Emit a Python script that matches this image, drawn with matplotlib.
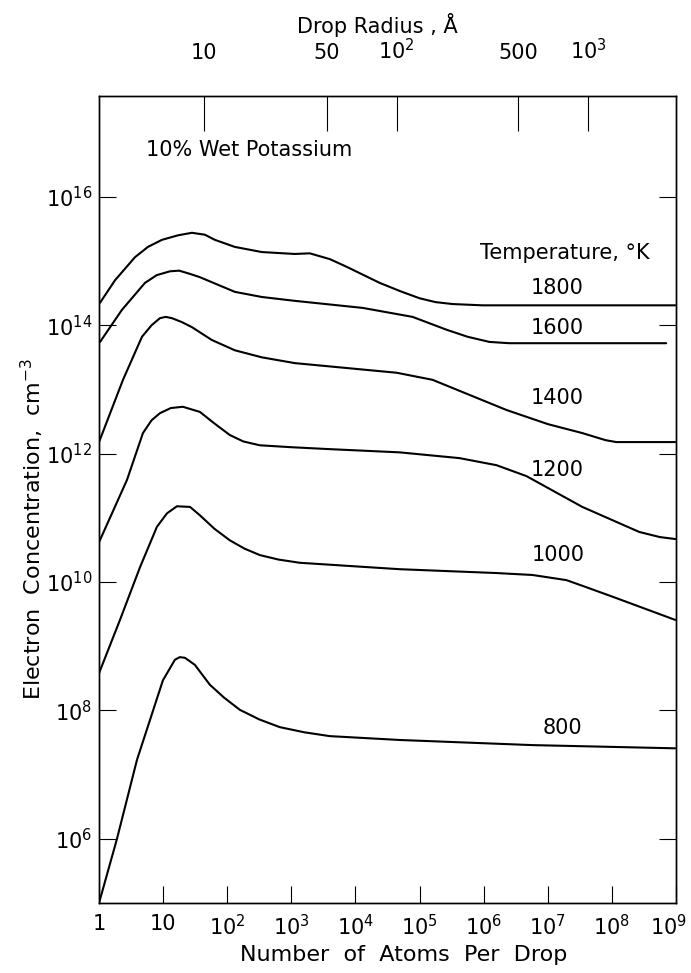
import numpy as np
import matplotlib
matplotlib.use("Agg")
import matplotlib.pyplot as plt
from matplotlib.transforms import ScaledTranslation

plt.rcParams["font.family"] = ["DejaVu Sans"]
plt.rcParams["mathtext.default"] = "regular"

# log10(atoms per drop) / log10(electron concentration)
t1800_x = [0.016, 0.249, 0.561, 0.763, 0.981, 1.23, 1.449, 1.651, 1.807, 2.118, 2.539, 3.053, 3.287,
           3.6, 3.863, 4.377, 4.7, 5.0, 5.25, 5.514, 5.981, 8.988]
t1800_y = [14.35, 14.70, 15.06, 15.22, 15.33, 15.40, 15.44, 15.41, 15.33, 15.22, 15.14, 15.11, 15.12,
           15.03, 14.91, 14.66, 14.53, 14.42, 14.36, 14.33, 14.31, 14.31]

t1600_x = [0.016, 0.358, 0.717, 0.9, 1.106, 1.25, 1.386, 1.57, 1.760, 2.118, 2.539, 3.053, 4.112,
           4.891, 5.421, 5.75, 6.090, 6.4, 6.760, 8.847]
t1600_y = [13.74, 14.24, 14.66, 14.78, 14.84, 14.85, 14.81, 14.75, 14.67, 14.52, 14.44, 14.38, 14.27,
           14.13, 13.93, 13.82, 13.74, 13.72, 13.72, 13.72]

t1400_x = [0.0, 0.374, 0.670, 0.82, 0.950, 1.04, 1.137, 1.29, 1.449, 1.760, 2.118, 2.539, 3.053,
           4.642, 5.202, 6.355, 7.0, 7.539, 7.9, 8.069, 8.988]
t1400_y = [12.18, 13.15, 13.82, 14.0, 14.11, 14.13, 14.11, 14.05, 13.97, 13.77, 13.61, 13.50, 13.41,
           13.26, 13.15, 12.68, 12.46, 12.32, 12.21, 12.18, 12.18]

t1200_x = [0.0, 0.436, 0.685, 0.82, 0.950, 1.12, 1.308, 1.573, 1.80, 2.040, 2.25, 2.508, 3.0, 3.598,
           4.688, 5.623, 6.2, 6.667, 7.539, 8.427, 8.75, 8.988]
t1200_y = [10.62, 11.59, 12.32, 12.52, 12.63, 12.71, 12.73, 12.65, 12.47, 12.29, 12.19, 12.13, 12.10, 12.07,
           12.02, 11.93, 11.82, 11.65, 11.17, 10.78, 10.70, 10.67]

t1000_x = [0.0, 0.327, 0.639, 0.903, 1.06, 1.215, 1.420, 1.573, 1.80, 2.040, 2.27, 2.508, 2.8, 3.131,
           4.688, 6.2, 6.760, 7.290, 7.6, 8.069, 8.988]
t1000_y = [8.58, 9.41, 10.23, 10.86, 11.07, 11.18, 11.17, 11.04, 10.83, 10.65, 10.52, 10.42, 10.35, 10.30,
           10.20, 10.14, 10.11, 10.03, 9.92, 9.75, 9.41]

t800_x = [0.0, 0.280, 0.592, 0.997, 1.184, 1.26, 1.340, 1.495, 1.729, 1.95, 2.196, 2.5, 2.819, 3.2,
          3.598, 4.688, 6.760, 8.988]
t800_y = [5.0, 6.0, 7.23, 8.47, 8.79, 8.83, 8.82, 8.71, 8.40, 8.20, 8.01, 7.86, 7.74, 7.66,
          7.60, 7.54, 7.46, 7.41]

temps = ["1800", "1600", "1400", "1200", "1000", "800"]
curves_x = [t1800_x, t1600_x, t1400_x, t1200_x, t1000_x, t800_x]
curves_y = [t1800_y, t1600_y, t1400_y, t1200_y, t1000_y, t800_y]

# bottom axis ticks
atom_ticks = [0, 1, 2, 3, 4, 5, 6, 7, 8, 9]
atom_labels = ["1", "10"] + [f"$10^{{{k}}}$" for k in range(2, 10)]

# left axis ticks
conc_ticks = [6, 8, 10, 12, 14, 16]
conc_labels = [f"$10^{{{k}}}$" for k in conc_ticks]

# drop radius ticks (Å) as log10 of atoms per drop
radius_logN = [1.636, 3.551, 4.642, 6.542, 7.632]
radius_labels = ["10", "50", "$10^2$", "500", "$10^3$"]

fig = plt.figure(figsize=(6.91, 9.73), dpi=100)
ax = fig.add_axes([0.1433, 0.0719, 0.835, 0.8294])

for xs, ys in zip(curves_x, curves_y):
    ax.plot(10 ** np.array(xs), 10 ** np.array(ys), color="black", lw=1.5,
            solid_joinstyle="round", solid_capstyle="round")

ax.set_xscale("log")
ax.set_yscale("log")
ax.set_xlim(1, 1e9)
ax.set_ylim(1e5, 10 ** 17.57)
ax.minorticks_off()

ax.set_xticks([10.0 ** k for k in atom_ticks])
ax.set_xticklabels(atom_labels, fontsize=15)
ax.set_yticks([10.0 ** k for k in conc_ticks])
ax.set_yticklabels(conc_labels, fontsize=15)
ax.tick_params(axis="both", which="major", direction="in", length=12, width=0.8,
               top=True, right=True)
ax.tick_params(axis="x", pad=8)
ax.tick_params(axis="y", pad=5)

# last bottom label sits at the figure edge, nudge it left
last = ax.get_xticklabels()[-1]
last.set_transform(last.get_transform() + ScaledTranslation(-7 / 100, 0, fig.dpi_scale_trans))

ax2 = ax.twiny()
ax2.set_xscale("log")
ax2.set_xlim(ax.get_xlim())
ax2.minorticks_off()
ax2.set_xticks([10.0 ** k for k in radius_logN])
ax2.set_xticklabels(radius_labels, fontsize=15)
ax2.tick_params(axis="x", direction="in", length=25, width=0.8, pad=24)

for a in (ax, ax2):
    for s in a.spines.values():
        s.set_linewidth(1.0)

fig.text(0.546, 1 - 25 / 973, "Drop Radius , Å", ha="center", va="center", fontsize=15)
fig.text(0.5835, 1 - 955 / 973, "Number  of  Atoms  Per  Drop", ha="center", va="center", fontsize=16)
fig.text(32 / 691, 1 - 529 / 973, "Electron  Concentration,  cm$^{-3}$", ha="center", va="center",
         rotation=90, fontsize=16)

ax.text(0.26, 0.933, "10% Wet Potassium", transform=ax.transAxes, ha="center", va="center", fontsize=15)
ax.text(0.8076, 0.8055, "Temperature, °K", transform=ax.transAxes, ha="center", va="center", fontsize=15)

label_pos = [(0.794, 0.762), (0.794, 0.7125), (0.794, 0.626), (0.794, 0.5366), (0.795, 0.431), (0.804, 0.2169)]
for t, (lx, ly) in zip(temps, label_pos):
    ax.text(lx, ly, t, transform=ax.transAxes, ha="center", va="center", fontsize=15)

fig.savefig("out.png", dpi=100)
